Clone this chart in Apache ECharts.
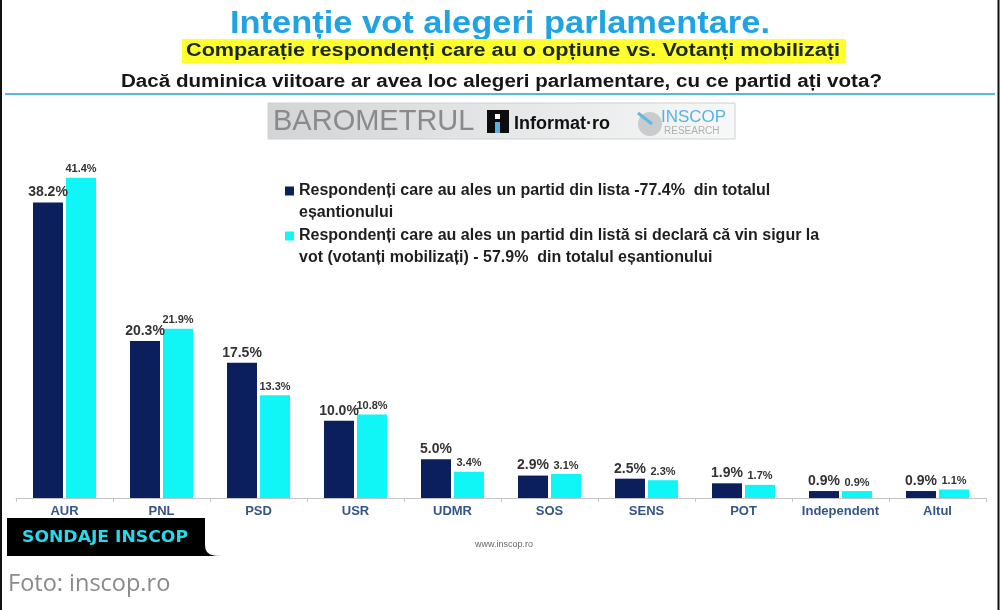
<!DOCTYPE html>
<html><head><meta charset="utf-8">
<script src="https://cdn.jsdelivr.net/npm/echarts@6/dist/echarts.min.js"></script>
<style>html,body{margin:0;padding:0;background:#fff}#c{width:1000px;height:610px}</style>
</head><body><div id="c"></div>
<script>
const categories = ['AUR','PNL','PSD','USR','UDMR','SOS','SENS','POT','Independent','Altul'];
const allRespondents = [38.2,20.3,17.5,10.0,5.0,2.9,2.5,1.9,0.9,0.9];
const mobilizedVoters = [41.4,21.9,13.3,10.8,3.4,3.1,2.3,1.7,0.9,1.1];
const seriesNames = [
  'Respondenți care au ales un partid din lista -77.4%  din totalul eșantionului',
  'Respondenți care au ales un partid din listă si declară că vin sigur la vot (votanți mobilizați) - 57.9%  din totalul eșantionului'
];
const legendLines = {};
legendLines[seriesNames[0]] = 'Respondenți care au ales un partid din lista -77.4%  din totalul\neșantionului';
legendLines[seriesNames[1]] = 'Respondenți care au ales un partid din listă si declară că vin sigur la\nvot (votanți mobilizați) - 57.9%  din totalul eșantionului';
const titleText = 'Intenție vot alegeri parlamentare.';
const subtitleText = 'Comparație respondenți care au o opțiune vs. Votanți mobilizați';
const questionText = 'Dacă duminica viitoare ar avea loc alegeri parlamentare, cu ce partid ați vota?';
const badgeText = 'SONDAJE INSCOP';

const sans = '"Liberation Sans",Arial,sans-serif';
const ctx = document.createElement('canvas').getContext('2d');
function fit(text, size, target, family){
  ctx.font = 'bold ' + size + 'px ' + (family || '"Liberation Sans"');
  return target / ctx.measureText(text).width;
}
const chart = echarts.init(document.getElementById('c'), null, {renderer:'canvas'});
const pct = p => p.value.toFixed(1) + '%';
const iconPath = 'path://M0,0L9,0L9,9L0,9Z M0,31L0.01,31L0.01,31.01Z';

chart.setOption({
  animation:false,
  backgroundColor:'#fff',
  legend:{
    orient:'vertical', left:285, top:180, padding:0, itemWidth:9, itemHeight:31, itemGap:1,
    selectedMode:false,
    data:[{name:seriesNames[0], icon:iconPath},{name:seriesNames[1], icon:iconPath}],
    formatter:n => legendLines[n],
    textStyle:{fontFamily:sans, fontSize:16, fontWeight:'bold', color:'#1e1e1e', lineHeight:22}
  },
  grid:{left:16, right:14, top:150, bottom:112, containLabel:false},
  xAxis:{
    type:'category', data:categories,
    axisLine:{lineStyle:{color:'#c4c4c4', width:1}},
    axisTick:{show:true, length:4, lineStyle:{color:'#c4c4c4'}},
    axisLabel:{interval:0, margin:7, fontFamily:sans, fontSize:13, fontWeight:'bold', color:'#34558a'}
  },
  yAxis:{type:'value', min:0, max:45, show:false, splitLine:{show:false}},
  series:[
    {name:seriesNames[0], type:'bar', data:allRespondents, barWidth:30, barGap:'10%',
     itemStyle:{color:'#0b1f5d'},
     label:{show:true, position:'top', distance:3, formatter:pct,
       fontFamily:sans, fontSize:14, fontWeight:'bold', color:'#333'}},
    {name:seriesNames[1], type:'bar', data:mobilizedVoters, barWidth:30, barGap:'10%',
     itemStyle:{color:'#10f6f6'},
     label:{show:true, position:'top', distance:3, formatter:pct,
       fontFamily:sans, fontSize:11, fontWeight:'bold', color:'#333'}}
  ],
  graphic:[
    {type:'line', shape:{x1:1, y1:0, x2:1, y2:610}, style:{stroke:'#111', lineWidth:2}, z:100},
    {type:'line', shape:{x1:998.5, y1:0, x2:998.5, y2:610}, style:{stroke:'#111', lineWidth:2}, z:100},
    {type:'text', x:500, y:24, scaleX:fit(titleText,32,540),
     style:{text:titleText, fontFamily:sans, fontSize:32, fontWeight:'bold', fill:'#1fa3e3', align:'center', verticalAlign:'middle'}},
    {type:'rect', shape:{x:182, y:39, width:664, height:24}, style:{fill:'#ffff2e'}},
    {type:'text', x:186, y:51, scaleX:fit(subtitleText,18,654),
     style:{text:subtitleText, fontFamily:sans, fontSize:18, fontWeight:'bold', fill:'#1b281b', align:'left', verticalAlign:'middle'}},
    {type:'text', x:121, y:82, scaleX:fit(questionText,18,761),
     style:{text:questionText, fontFamily:sans, fontSize:18, fontWeight:'bold', fill:'#161616', align:'left', verticalAlign:'middle'}},
    {type:'line', shape:{x1:5, y1:94, x2:995, y2:94}, style:{stroke:'#58b6e6', lineWidth:2}},
    {type:'group', children:[
      {type:'rect', shape:{x:268, y:103, width:467, height:36},
       style:{fill:{type:'linear', x:0, y:0, x2:1, y2:0, colorStops:[{offset:0,color:'#d2d4d6'},{offset:1,color:'#f7f8f8'}]}, stroke:'#d0d0d0', lineWidth:1}},
      {type:'text', x:273, y:122, style:{text:'BAROMETRUL', fontFamily:sans, fontSize:29, fill:'#8a8a8a', verticalAlign:'middle'}},
      {type:'rect', shape:{x:487, y:110, width:22, height:23}, style:{fill:'#0d0d0d'}},
      {type:'rect', shape:{x:495, y:122, width:5, height:11}, style:{fill:'#5fb0e0'}},
      {type:'rect', shape:{x:495, y:114, width:5, height:5}, style:{fill:'#fff'}},
      {type:'text', x:514, y:124, style:{text:'Informat·ro', fontFamily:sans, fontSize:18, fontWeight:'bold', fill:'#111', verticalAlign:'middle'}},
      {type:'circle', shape:{cx:650, cy:124, r:12}, style:{fill:'#c9cbcc'}},
      {type:'line', shape:{x1:638, y1:113, x2:652, y2:124}, style:{stroke:'#5fb8e6', lineWidth:3}},
      {type:'text', x:661, y:117, style:{text:'INSCOP', fontFamily:sans, fontSize:17, fill:'#57b3e6', verticalAlign:'middle'}},
      {type:'text', x:664, y:131, style:{text:'RESEARCH', fontFamily:sans, fontSize:10, fill:'#b0b0b0', verticalAlign:'middle'}}
    ]},
    {type:'polygon', z:100, shape:{points:[[7,518],[205,518],[205,545],[205.5,549],[207,552],[210,554.5],[215,555.7],[222,556],[7,556]]}, style:{fill:'#000'}},
    {type:'text', z:101, x:22, y:538, scaleX:fit(badgeText,16,166,'"DejaVu Sans"'),
     style:{text:badgeText, fontFamily:'"DejaVu Sans",sans-serif', fontSize:16, fontWeight:'bold', fill:'#2ad8ec', verticalAlign:'middle'}},
    {type:'text', x:504, y:545, style:{text:'www.inscop.ro', fontFamily:sans, fontSize:9, fill:'#666', align:'center', verticalAlign:'middle'}},
    {type:'text', x:8, y:584, style:{text:'Foto: inscop.ro', fontFamily:'"Open Sans",sans-serif', fontSize:23.5, fill:'#8a8a8a', verticalAlign:'middle'}}
  ]
});
</script></body></html>
